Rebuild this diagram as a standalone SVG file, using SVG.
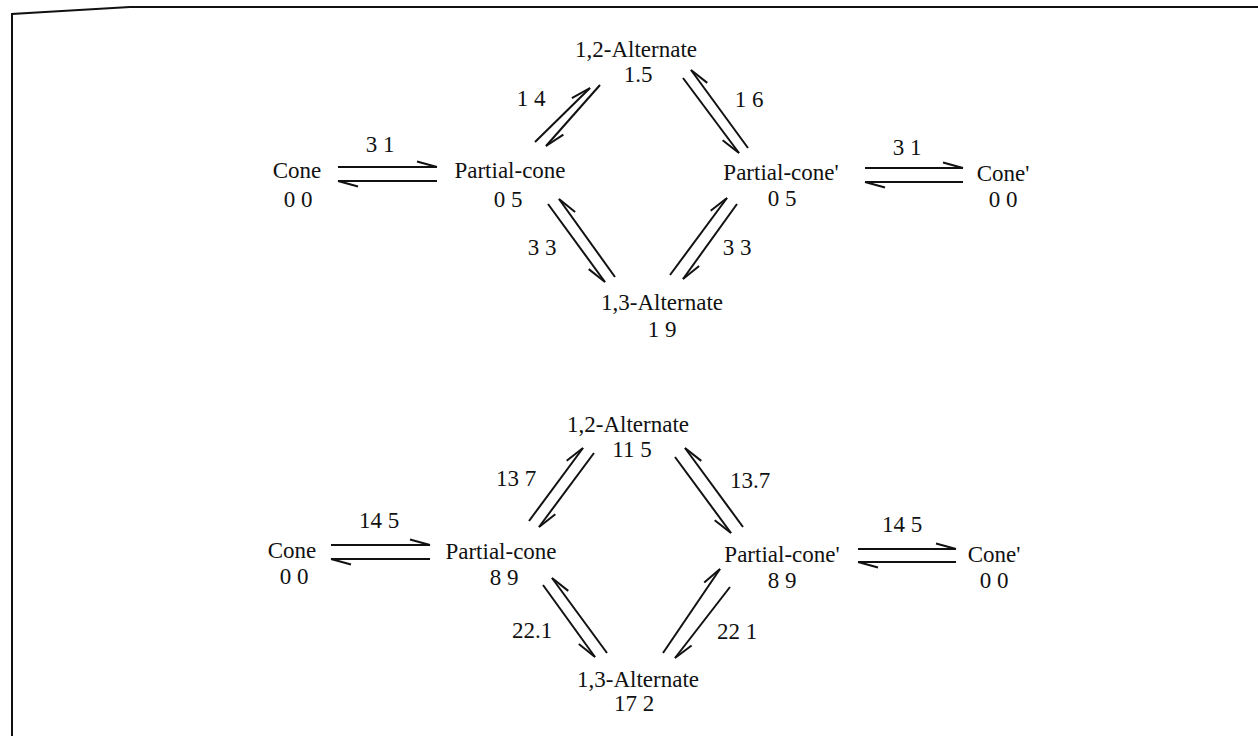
<svg xmlns="http://www.w3.org/2000/svg" width="1258" height="736" viewBox="0 0 1258 736">
  <style>
    text { font-family: "Liberation Serif", "Times New Roman", serif; font-size: 23px; fill: #111; text-anchor: middle; }
    .frame { fill: none; stroke: #111; stroke-width: 2; }
    .conn line { stroke: #111; stroke-width: 2; fill: none; }
    .hA { marker-end: url(#barbA); }
    .hB { marker-end: url(#barbB); }
  </style>
  <defs>
    <!-- single-sided (harpoon) arrowheads; A puts the barb on the left of travel, B on the right -->
    <marker id="barbA" markerUnits="userSpaceOnUse" orient="auto" refX="0" refY="0" markerWidth="30" markerHeight="30" overflow="visible">
      <path d="M0,0 L-20,-5.5" stroke="#111" stroke-width="2" fill="none"/>
    </marker>
    <marker id="barbB" markerUnits="userSpaceOnUse" orient="auto" refX="0" refY="0" markerWidth="30" markerHeight="30" overflow="visible">
      <path d="M0,0 L-20,5.5" stroke="#111" stroke-width="2" fill="none"/>
    </marker>
  </defs>

  <rect width="1258" height="736" fill="#fff"/>
  <!-- open frame: left edge and top edge -->
  <path class="frame" d="M12,736 L12,14 L45,12 L130,7 L1258,7"/>

  <!-- ===== upper scheme ===== -->
  <g id="top-cone"><text x="297" y="178">Cone</text><text x="298" y="207">0 0</text></g>
  <g id="top-partial-cone"><text x="510" y="178">Partial-cone</text><text x="508" y="207">0 5</text></g>
  <g id="top-alt12"><text x="636" y="57">1,2-Alternate</text><text x="638" y="82">1.5</text></g>
  <g id="top-partial-cone-prime"><text x="781" y="180">Partial-cone'</text><text x="782" y="206">0 5</text></g>
  <g id="top-cone-prime"><text x="1003" y="181">Cone'</text><text x="1003" y="207">0 0</text></g>
  <g id="top-alt13"><text x="662" y="310">1,3-Alternate</text><text x="662" y="337">1 9</text></g>

  <g id="top-connectors" class="conn">
    <line class="hA" x1="338" y1="167" x2="437" y2="167"/>
    <line class="hA" x1="437" y1="181" x2="338" y2="181"/>
    <line class="hA" x1="535" y1="142" x2="590" y2="88"/>
    <line class="hA" x1="600" y1="85" x2="546" y2="146"/>
    <line class="hB" x1="683" y1="78" x2="739" y2="153"/>
    <line class="hB" x1="748" y1="148" x2="691" y2="70"/>
    <line class="hA" x1="865" y1="168" x2="963" y2="168"/>
    <line class="hA" x1="963" y1="182" x2="865" y2="182"/>
    <line class="hB" x1="548" y1="204" x2="605" y2="282"/>
    <line class="hB" x1="615" y1="277" x2="559" y2="199"/>
    <line class="hA" x1="670" y1="275" x2="727" y2="198"/>
    <line class="hA" x1="737" y1="204" x2="683" y2="279"/>
    <text x="380" y="152">3 1</text>
    <text x="907" y="155">3 1</text>
    <text x="531" y="106">1 4</text>
    <text x="749" y="107">1 6</text>
    <text x="542" y="255">3 3</text>
    <text x="737" y="255">3 3</text>
  </g>

  <!-- ===== lower scheme ===== -->
  <g id="bot-cone"><text x="292" y="558">Cone</text><text x="294" y="584">0 0</text></g>
  <g id="bot-partial-cone"><text x="501" y="559">Partial-cone</text><text x="504" y="585">8 9</text></g>
  <g id="bot-alt12"><text x="628" y="432">1,2-Alternate</text><text x="632" y="457">11 5</text></g>
  <g id="bot-partial-cone-prime"><text x="782" y="562">Partial-cone'</text><text x="782" y="588">8 9</text></g>
  <g id="bot-cone-prime"><text x="994" y="562">Cone'</text><text x="994" y="588">0 0</text></g>
  <g id="bot-alt13"><text x="638" y="687">1,3-Alternate</text><text x="634" y="711">17 2</text></g>

  <g id="bot-connectors" class="conn">
    <line class="hA" x1="331" y1="545" x2="430" y2="545"/>
    <line class="hA" x1="430" y1="559" x2="331" y2="559"/>
    <line class="hA" x1="529" y1="521" x2="583" y2="448"/>
    <line class="hA" x1="594" y1="453" x2="539" y2="527"/>
    <line class="hB" x1="675" y1="457" x2="731" y2="533"/>
    <line class="hB" x1="743" y1="527" x2="685" y2="448"/>
    <line class="hA" x1="858" y1="549" x2="956" y2="549"/>
    <line class="hA" x1="956" y1="562" x2="858" y2="562"/>
    <line class="hB" x1="543" y1="585" x2="595" y2="657"/>
    <line class="hB" x1="607" y1="653" x2="552" y2="578"/>
    <line class="hA" x1="663" y1="653" x2="720" y2="569"/>
    <line class="hA" x1="730" y1="587" x2="675" y2="658"/>
    <text x="379" y="528">14 5</text>
    <text x="902" y="532">14 5</text>
    <text x="516" y="486">13 7</text>
    <text x="750" y="488">13.7</text>
    <text x="532" y="638">22.1</text>
    <text x="737" y="639">22 1</text>
  </g>
</svg>
